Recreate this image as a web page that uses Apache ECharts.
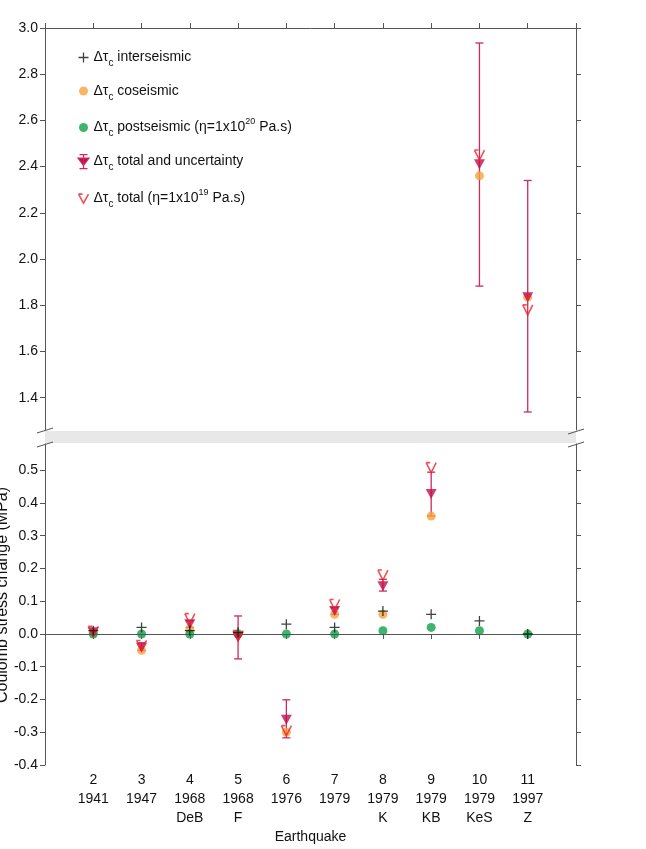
<!DOCTYPE html>
<html>
<head>
<meta charset="utf-8">
<script src="https://cdn.jsdelivr.net/npm/echarts@6/dist/echarts.min.js"></script>
<style>
    html, body { margin: 0; padding: 0; background: #fff; }
    #main { width: 646px; height: 849px; }
</style>
</head>
<body>
<div id="main"></div>
<script>
    // earthquake index, year and short name
    var quakes = [2, 3, 4, 5, 6, 7, 8, 9, 10, 11];
    var years = ['1941', '1947', '1968', '1968', '1976', '1979', '1979', '1979', '1979', '1997'];
    var names = ['', '', 'DeB', 'F', '', '', 'K', 'KB', 'KeS', 'Z'];

    // coulomb stress change (MPa)
    var inter = [0.01, 0.02, 0.01, 0.005, 0.03, 0.02, 0.07, 0.06, 0.04, 0.0];
    var co = [0.005, -0.05, 0.015, 0.0, -0.30, 0.06, 0.06, 0.36, 2.36, 1.835];
    var post = [0, 0, 0, 0, 0, 0, 0.01, 0.02, 0.01, 0];
    var total = [0.005, -0.042, 0.03, -0.01, -0.262, 0.07, 0.146, 0.427, 2.41, 1.835];
    var totalLow = [0.0, -0.05, 0.02, -0.076, -0.317, 0.06, 0.131, 0.36, 1.883, 1.338];
    var totalHigh = [0.01, -0.027, 0.04, 0.055, -0.201, 0.08, 0.167, 0.494, 2.935, 2.34];
    var total19 = [0.008, -0.035, 0.047, -0.005, -0.295, 0.09, 0.18, 0.508, 2.45, 1.78];

    var topTicks = [1.4, 1.6, 1.8, 2.0, 2.2, 2.4, 2.6, 2.8, 3.0];
    var bottomTicks = [-0.4, -0.3, -0.2, -0.1, 0.0, 0.1, 0.2, 0.3, 0.4, 0.5];

    var BREAK = 1.0;
    function pick(vals, upper) {
        var out = [];
        for (var i = 0; i < vals.length; i++) {
            if ((vals[i] > BREAK) === upper) out.push([quakes[i], vals[i]]);
        }
        return out;
    }
    function pickErr(upper) {
        var out = [];
        for (var i = 0; i < quakes.length; i++) {
            if ((total[i] > BREAK) === upper) out.push([quakes[i], totalLow[i], totalHigh[i]]);
        }
        return out;
    }

    var FONT = 'Liberation Sans, Arial, sans-serif';
    var AX = '#555';
    var ORANGE = '#f5a23e', GREEN = '#10a048', CRIMSON = '#c20e4a', BAR = '#cc2a5c', RED = '#e8262c';
    var PLUS = 'path://M5,0L5,10M0,5L10,5';
    var VOPEN = 'path://M0,0L4,0M0,0L5,10L10,0';
    // legend icons (padded to a 12x14 box)
    var L_PLUS = 'path://M0,0M12,14M6,2L6,12M1,7L11,7';
    var L_CIRC = 'path://M0,0M12,14M1.5,7a4.5,4.5 0 1 0 9,0a4.5,4.5 0 1 0 -9,0Z';
    var L_TOT = 'path://M2,0L10,0M6,0L6,14M2,14L10,14M0.5,3.5L11.5,3.5L6,11Z';
    var L_V = 'path://M0,0M12,14M1,3L5,3M1,3L6,12L11,3';

    function renderErr(params, api) {
        var x = api.value(0);
        var p1 = api.coord([x, api.value(1)]);
        var p2 = api.coord([x, api.value(2)]);
        var w = 4;
        var st = { stroke: BAR, lineWidth: 1.3 };
        return {
            type: 'group',
            children: [
                { type: 'line', shape: { x1: p1[0], y1: p1[1], x2: p2[0], y2: p2[1] }, style: st },
                { type: 'line', shape: { x1: p1[0] - w, y1: p1[1], x2: p1[0] + w, y2: p1[1] }, style: st },
                { type: 'line', shape: { x1: p2[0] - w, y1: p2[1], x2: p2[0] + w, y2: p2[1] }, style: st }
            ]
        };
    }

    function xAxisDef(idx, pos, labels) {
        return {
            type: 'value', gridIndex: idx, position: pos, min: 1, max: 12, interval: 1,
            axisLine: { show: true, lineStyle: { color: AX } },
            axisTick: { show: true, inside: false, length: 5, lineStyle: { color: AX } },
            splitLine: { show: false },
            axisLabel: labels ? {
                show: true, margin: 6, color: '#111', fontFamily: FONT, fontSize: 14, lineHeight: 19,
                showMinLabel: false, showMaxLabel: false,
                formatter: function (v) {
                    var i = quakes.indexOf(v);
                    if (i < 0) return '';
                    return v + '\n' + years[i] + '\n' + names[i];
                }
            } : { show: false },
            name: labels ? 'Earthquake' : '',
            nameLocation: 'middle', nameGap: 65,
            nameTextStyle: { color: '#111', fontFamily: FONT, fontSize: 14 }
        };
    }
    function yAxisDef(idx, pos, min, max, ticks, labels) {
        return {
            type: 'value', gridIndex: idx, position: pos, min: min, max: max,
            axisLine: { show: true, lineStyle: { color: AX } },
            axisTick: { show: true, inside: false, length: 5, customValues: ticks, lineStyle: { color: AX } },
            splitLine: { show: false },
            axisLabel: labels ? {
                show: true, margin: 7, color: '#111', fontFamily: FONT, fontSize: 14,
                customValues: ticks,
                formatter: function (v) { return v.toFixed(1); }
            } : { show: false }
        };
    }

    function pointSeries(name, vals, upper, style) {
        return {
            name: name, type: 'scatter',
            xAxisIndex: upper ? 0 : 1, yAxisIndex: upper ? 0 : 2,
            data: pick(vals, upper),
            symbol: style.symbol, symbolSize: style.size, symbolRotate: style.rotate || 0,
            itemStyle: style.item, z: style.z, silent: true
        };
    }

    var styles = {
        co: { symbol: 'circle', size: 9, item: { color: ORANGE }, z: 3 },
        post: { symbol: 'circle', size: 9, item: { color: GREEN }, z: 4 },
        total: { symbol: 'triangle', size: [11, 10], rotate: 180, item: { color: CRIMSON }, z: 5 },
        total19: { symbol: VOPEN, size: [10, 10], item: { color: 'none', borderColor: RED, borderWidth: 1.6 }, z: 6 },
        inter: { symbol: PLUS, size: 10, item: { color: 'none', borderColor: '#111', borderWidth: 1.3 }, z: 7 }
    };
    var seriesNames = {
        inter: 'interseismic', co: 'coseismic', post: 'postseismic',
        total: 'totalunc', total19: 'total19'
    };
    var values = { inter: inter, co: co, post: post, total: total, total19: total19 };

    var series = [];
    [true, false].forEach(function (upper) {
        series.push({
            name: 'totalunc', type: 'custom', renderItem: renderErr,
            xAxisIndex: upper ? 0 : 1, yAxisIndex: upper ? 0 : 2,
            encode: { x: 0, y: [1, 2] }, data: pickErr(upper), z: 2, silent: true
        });
        ['co', 'post', 'total', 'total19', 'inter'].forEach(function (k) {
            series.push(pointSeries(seriesNames[k], values[k], upper, styles[k]));
        });
    });
    // zero line of the lower panel
    series.push({
        type: 'scatter', xAxisIndex: 1, yAxisIndex: 2, data: [], z: 1, silent: true,
        markLine: {
            silent: true, symbol: 'none', label: { show: false },
            lineStyle: { color: AX, type: 'solid', width: 1 },
            data: [{ yAxis: 0 }]
        }
    });

    var legendText = {
        interseismic: '{n|Δτ}{s|c}{n| interseismic}',
        coseismic: '{n|Δτ}{s|c}{n| coseismic}',
        postseismic: '{n|Δτ}{s|c}{n| postseismic (η=1x10}{p|20}{n| Pa.s)}',
        totalunc: '{n|Δτ}{s|c}{n| total and uncertainty}',
        total19: '{n|Δτ}{s|c}{n| total (η=1x10}{p|19}{n| Pa.s)}'
    };

    var myChart = echarts.init(document.getElementById('main'));
    var option = {
        backgroundColor: '#fff',
        animation: false,
        grid: [
            { left: 45, right: 70, top: 28, height: 402 },
            { left: 45, right: 70, top: 444, height: 321 }
        ],
        xAxis: [xAxisDef(0, 'top', false), xAxisDef(1, 'bottom', true)],
        yAxis: [
            yAxisDef(0, 'left', 1.26, 3.0, topTicks, true),
            yAxisDef(0, 'right', 1.26, 3.0, topTicks, false),
            yAxisDef(1, 'left', -0.4, 0.58, bottomTicks, true),
            yAxisDef(1, 'right', -0.4, 0.58, bottomTicks, false)
        ],
        legend: {
            orient: 'vertical', left: 70, top: 43, itemGap: 15.5,
            itemWidth: 12, itemHeight: 14, itemGap: 15.5, selectedMode: false,
            data: [
                { name: 'interseismic', icon: L_PLUS, itemStyle: { color: 'none', borderColor: '#111', borderWidth: 1.3 } },
                { name: 'coseismic', icon: L_CIRC, itemStyle: { color: ORANGE, borderWidth: 0 } },
                { name: 'postseismic', icon: L_CIRC, itemStyle: { color: GREEN, borderWidth: 0 } },
                { name: 'totalunc', icon: L_TOT, itemStyle: { color: CRIMSON, borderColor: BAR, borderWidth: 1.2 } },
                { name: 'total19', icon: L_V, itemStyle: { color: 'none', borderColor: RED, borderWidth: 1.6 } }
            ],
            formatter: function (n) { return legendText[n]; },
            textStyle: {
                padding: [0, 0, 0, -1],
                rich: {
                    n: { fontFamily: FONT, fontSize: 14, color: '#111', lineHeight: 16 },
                    s: { fontFamily: FONT, fontSize: 10, color: '#111', lineHeight: 10, verticalAlign: 'bottom', padding: [0, 0, -3, 0] },
                    p: { fontFamily: FONT, fontSize: 9, color: '#111', lineHeight: 9, verticalAlign: 'top', padding: [-2, 0, 0, 0] }
                }
            }
        },
        graphic: [
            { type: 'rect', silent: true, shape: { x: 45, y: 431, width: 531, height: 12 }, style: { fill: '#e8e8e8' } },
            { type: 'line', silent: true, shape: { x1: 37, y1: 433, x2: 53, y2: 428 }, style: { stroke: AX, lineWidth: 1 } },
            { type: 'line', silent: true, shape: { x1: 37, y1: 447, x2: 53, y2: 442 }, style: { stroke: AX, lineWidth: 1 } },
            { type: 'line', silent: true, shape: { x1: 568, y1: 434, x2: 584, y2: 429 }, style: { stroke: AX, lineWidth: 1 } },
            { type: 'line', silent: true, shape: { x1: 568, y1: 447, x2: 584, y2: 442 }, style: { stroke: AX, lineWidth: 1 } },
            {
                type: 'text', silent: true, x: 3, y: 595, rotation: Math.PI / 2,
                style: { text: 'Coulomb stress change (MPa)', fontFamily: FONT, fontSize: 16, fill: '#111', align: 'center', verticalAlign: 'middle' }
            }
        ],
        series: series
    };
    myChart.setOption(option);
</script>
</body>
</html>
